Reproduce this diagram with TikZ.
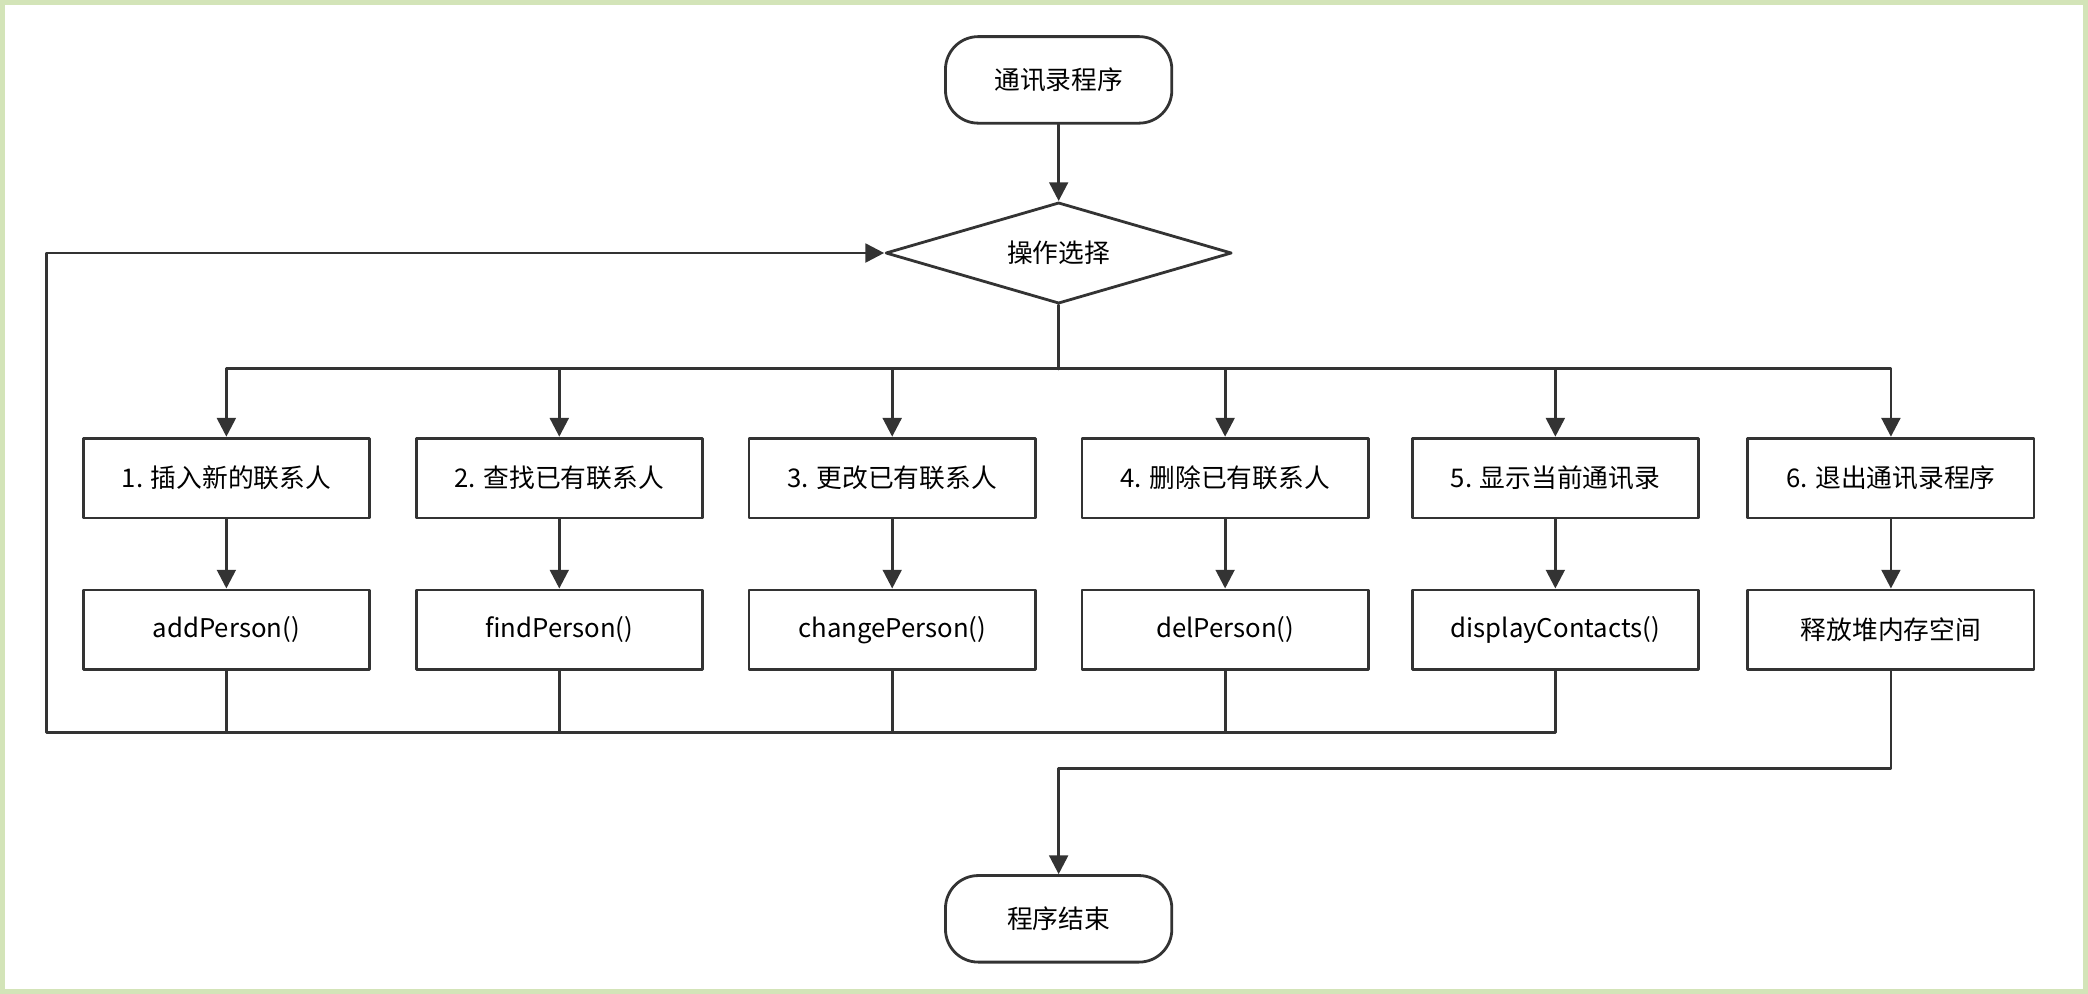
\documentclass[tikz,border=0pt]{standalone}
\usepackage{fontspec}
\setmainfont{Noto Sans CJK SC}
\usetikzlibrary{shapes.geometric,arrows.meta}
\definecolor{lineGray}{HTML}{333333}
\definecolor{frameGreen}{HTML}{D3E4B8}
\begin{document}
\begin{tikzpicture}[line cap=round,line join=round,x=0.02cm,y=-0.02cm,
    font=\fontsize{11}{13}\selectfont,
    >={Triangle[length=8pt,width=8pt]},
    flow/.style={draw=lineGray,line width=1.2pt},
    terminal/.style={flow,rounded corners=14pt,minimum width=3.4cm,minimum height=1.3cm},
    choice/.style={flow,diamond,aspect=3.4,minimum width=5.2cm,minimum height=1.52cm,inner sep=0pt},
    procbox/.style={flow,rectangle,minimum width=4.3cm,minimum height=1.2cm}]
  \useasboundingbox (0,0) rectangle (1568,746);
  \draw[frameGreen,line width=3pt] (1,1) rectangle (1567,745);
  \node[terminal] (start) at (795,60) {通讯录程序};
  \node[choice] (select) at (795,190) {操作选择};
  \node[terminal] (finish) at (795,690) {程序结束};
  \coordinate (split) at (795,277);
  \draw[flow] (select.south) -- (split);
  \foreach \i/\x/\menu/\func in {
      1/170/{1. 插入新的联系人}/{addPerson()},
      2/420/{2. 查找已有联系人}/{findPerson()},
      3/670/{3. 更改已有联系人}/{changePerson()},
      4/920/{4. 删除已有联系人}/{delPerson()},
      5/1168/{5. 显示当前通讯录}/{displayContacts()},
      6/1420/{6. 退出通讯录程序}/{释放堆内存空间}} {
    \node[procbox] (menu\i) at (\x,359) {\menu};
    \node[procbox] (func\i) at (\x,473) {\func};
    \draw[flow,->] (split) -| (menu\i.north);
    \draw[flow,->] (menu\i) -- (func\i);
  }
  % return to the selection
  \coordinate (back) at (35,550);
  \foreach \i in {1,...,4}
    \draw[flow] (func\i.south) -- (func\i.south |- back);
  \draw[flow,->] (func5.south) |- (back) |- (select.west);
  % leave the program
  \draw[flow,->] (func6.south) |- (795,577) -- (finish.north);
  \draw[flow,->] (start) -- (select);
\end{tikzpicture}
\end{document}
